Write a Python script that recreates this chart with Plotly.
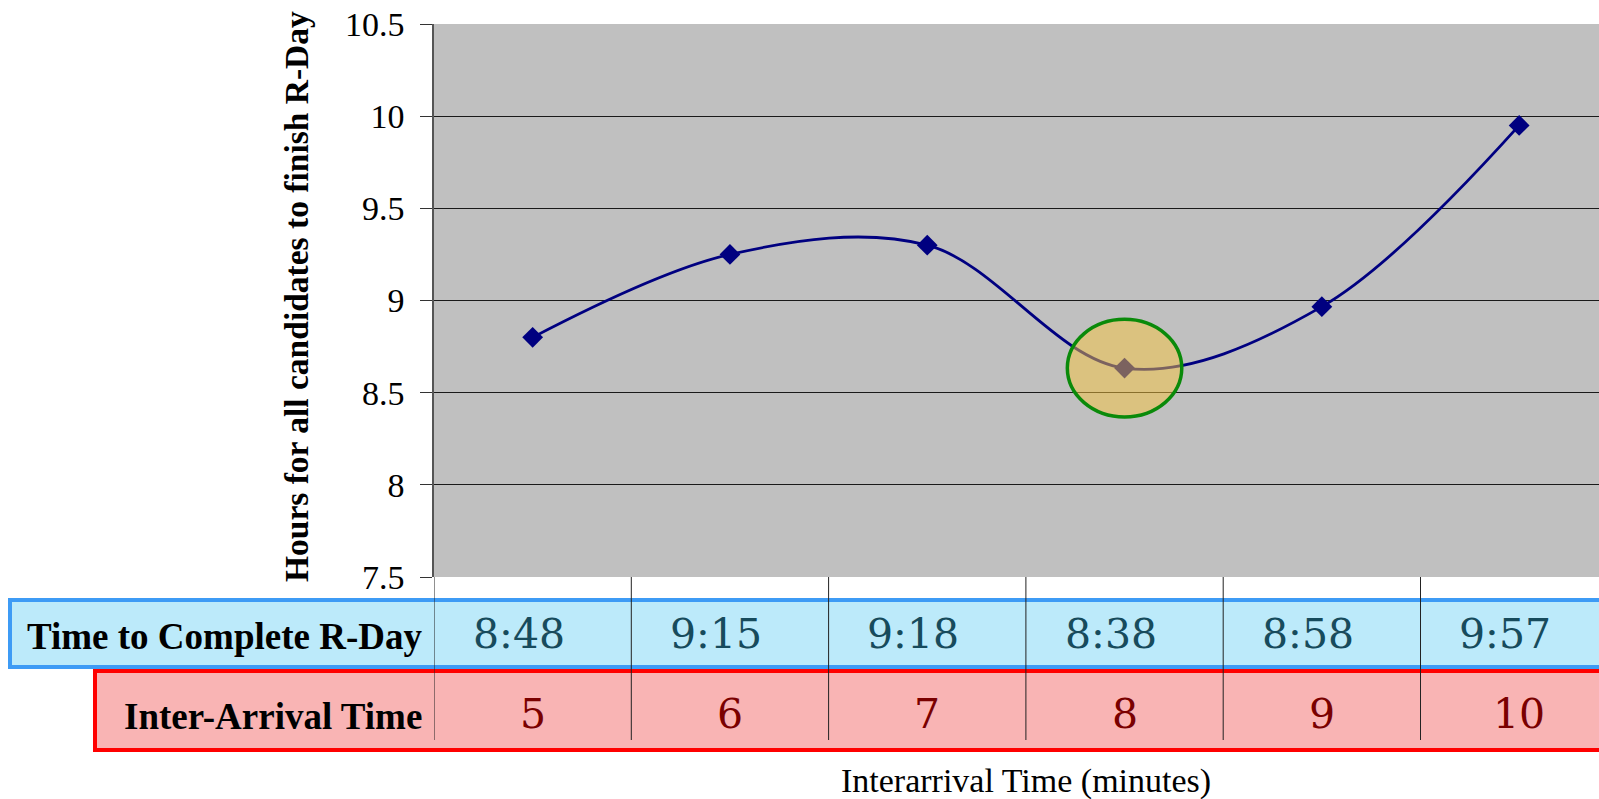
import plotly.graph_objects as go

# Inter-arrival time (minutes) and time needed to finish R-Day (h:mm)
interarrival = [5, 6, 7, 8, 9, 10]
finish_labels = ["8:48", "9:15", "9:18", "8:38", "8:58", "9:57"]
y_ticks = [7.5, 8, 8.5, 9, 9.5, 10, 10.5]

# hours as decimal values, derived from the h:mm labels
hours = [int(s.split(":")[0]) + int(s.split(":")[1]) / 60 for s in finish_labels]

best_idx = hours.index(min(hours))

W, H = 1599, 799
L, R, T, B = 434, 0, 24, 222
plot_w = W - L - R
plot_h = H - T - B
cat_w = 197.3  # pixel width of one category slot
x_lo = 4.5
x_hi = x_lo + plot_w / cat_w

FONT = "Liberation Serif, Times New Roman, serif"
WIDE_FONT = "DejaVu Serif, serif"


def px_x(p):
    return (p - L) / plot_w


def px_y(p):
    return (H - B - p) / plot_h


fig = go.Figure()

fig.add_trace(go.Scatter(
    x=interarrival, y=hours,
    mode="lines+markers",
    line=dict(color="#000080", width=2.8, shape="spline", smoothing=1.0),
    marker=dict(symbol="diamond", size=16, color="#000080"),
    hoverinfo="x+y", showlegend=False,
))

shapes = []

# table rows below the plot
shapes.append(dict(type="rect", xref="paper", yref="paper",
                   x0=px_x(10), x1=1.05, y0=px_y(667), y1=px_y(600),
                   fillcolor="#BCEAFA", line=dict(color="#3D9BF5", width=4),
                   layer="below"))
shapes.append(dict(type="rect", xref="paper", yref="paper",
                   x0=px_x(95), x1=1.05, y0=px_y(750), y1=px_y(671),
                   fillcolor="#F9B4B4", line=dict(color="#FF0000", width=4),
                   layer="below"))

# category dividers through the table
for i in range(len(interarrival) + 1):
    xv = interarrival[0] - 0.5 + i
    shapes.append(dict(type="line", xref="x", yref="paper",
                       x0=xv, x1=xv, y0=px_y(740), y1=0,
                       line=dict(color="#222222", width=1)))

# highlight around the shortest completion time
shapes.append(dict(type="circle", xref="x", yref="y",
                   x0=interarrival[best_idx] - 0.29, x1=interarrival[best_idx] + 0.29,
                   y0=hours[best_idx] - 0.265, y1=hours[best_idx] + 0.265,
                   fillcolor="rgba(246,196,62,0.5)",
                   line=dict(color="#0A8A0A", width=3.5)))

annotations = []
annotations.append(dict(text="<b>Time to Complete R-Day</b>", xref="paper", yref="paper",
                        x=px_x(424), y=px_y(636), xanchor="right", yanchor="middle",
                        showarrow=False, font=dict(family=FONT, size=37, color="black")))
annotations.append(dict(text="<b>Inter-Arrival Time</b>", xref="paper", yref="paper",
                        x=px_x(424), y=px_y(716), xanchor="right", yanchor="middle",
                        showarrow=False, font=dict(family=FONT, size=37, color="black")))
for xi, lab in zip(interarrival, finish_labels):
    annotations.append(dict(text=lab, xref="x", yref="paper", x=xi, y=px_y(634),
                            xanchor="center", yanchor="middle", showarrow=False,
                            xshift=-14,
                            font=dict(family=WIDE_FONT, size=41, color="#174B5C")))
    annotations.append(dict(text=str(xi), xref="x", yref="paper", x=xi, y=px_y(714),
                            xanchor="center", yanchor="middle", showarrow=False,
                            font=dict(family=WIDE_FONT, size=41, color="#7A0000")))

annotations.append(dict(text="Interarrival Time (minutes)", xref="paper", yref="paper",
                        x=px_x(1026), y=px_y(781), xanchor="center", yanchor="middle",
                        showarrow=False, font=dict(family=FONT, size=34, color="black")))
annotations.append(dict(text="<b>Hours for all candidates to finish R-Day</b>",
                        xref="paper", yref="paper", textangle=-90,
                        x=px_x(296), y=px_y(297), xanchor="center", yanchor="middle",
                        showarrow=False, font=dict(family=FONT, size=33.5, color="black")))

fig.update_layout(
    width=W, height=H,
    margin=dict(l=L, r=R, t=T, b=B, pad=0),
    paper_bgcolor="white",
    plot_bgcolor="#C0C0C0",
    font=dict(family=FONT, size=34, color="black"),
    shapes=shapes,
    annotations=annotations,
    xaxis=dict(range=[x_lo, x_hi], showticklabels=False, showgrid=False,
               zeroline=False, showline=False, ticks=""),
    yaxis=dict(range=[y_ticks[0], y_ticks[-1]], tickvals=y_ticks,
               ticktext=[f"{v:g}" for v in y_ticks],
               showgrid=True, gridcolor="#1a1a1a", gridwidth=1,
               zeroline=False, showline=True, linecolor="#555555", linewidth=1.5,
               ticks="outside", ticklen=12, tickcolor="#333333", tickwidth=1,
               ticklabelstandoff=9,
               tickfont=dict(family=FONT, size=34, color="black")),
)

fig.write_html("out.html")
